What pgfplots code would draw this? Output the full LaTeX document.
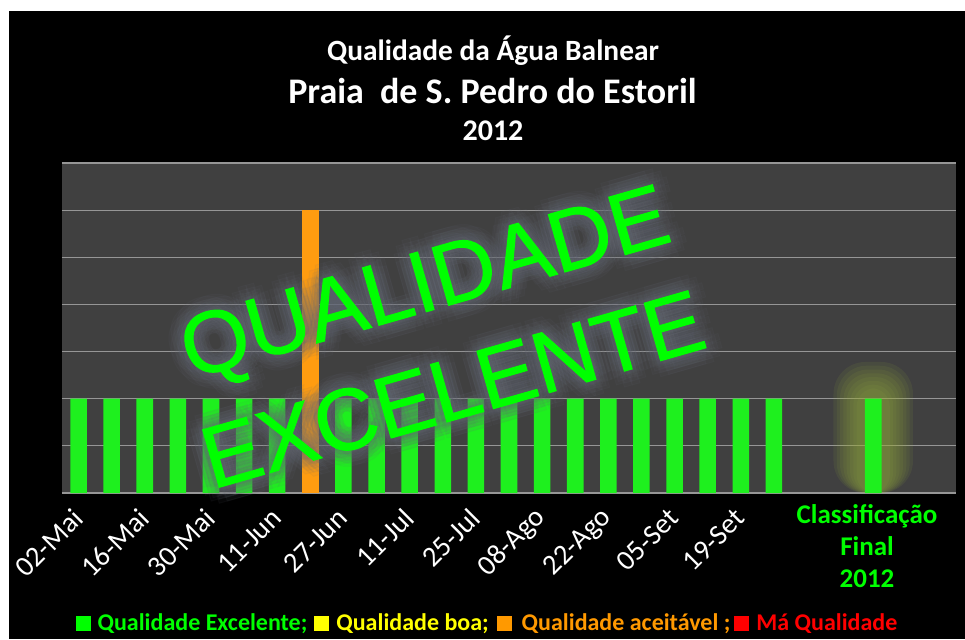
\documentclass[border=0pt]{standalone}
\usepackage{pgfplots}
\pgfplotsset{compat=1.18}
\usepackage{fontspec}
\setmainfont{Carlito}
\newfontfamily\arialfont[FakeBold=1.2]{Liberation Sans}
\definecolor{xgreen}{RGB}{30,240,30}
\definecolor{xorange}{RGB}{255,156,16}
\definecolor{plotbg}{RGB}{64,64,64}
\definecolor{gridc}{RGB}{150,150,150}
\definecolor{halo}{RGB}{105,110,122}
\definecolor{glowc}{RGB}{150,172,60}
\definecolor{lgreen}{RGB}{0,255,0}
\definecolor{lyellow}{RGB}{255,255,0}
\definecolor{lorange}{RGB}{255,153,0}
\definecolor{lred}{RGB}{255,0,0}
\begin{document}
\begin{tikzpicture}
\path[use as bounding box, fill=white] (0pt,0pt) rectangle (482.5pt,-319.5pt);
\fill[black] (4.5pt,-5.5pt) rectangle (482.5pt,-319.5pt);
\begin{axis}[
  at={(31pt,-246.5pt)}, anchor=south west,
  scale only axis, width=447pt, height=165pt,
  xmin=-0.5, xmax=26.5, ymin=0, ymax=7,
  axis background/.style={fill=plotbg},
  axis line style={draw=none},
  ytick={0,1,...,7}, yticklabels={}, ymajorgrids,
  major grid style={gridc, line width=0.6pt},
  major tick length=0pt,
  xtick={0,2,...,20},
  xticklabels={02-Mai,16-Mai,30-Mai,11-Jun,27-Jun,11-Jul,25-Jul,08-Ago,22-Ago,05-Set,19-Set},
  xticklabel style={rotate=45, anchor=east, text=white, font=\fontsize{14.3}{16}\selectfont, xshift=-4pt, yshift=-7pt},
]
\fill[glowc, opacity=0.1, rounded corners=16pt] (axis cs:22.8,0) rectangle (axis cs:25.2,2.78);
\fill[glowc, opacity=0.1, rounded corners=15pt] (axis cs:22.9,0) rectangle (axis cs:25.1,2.70);
\fill[glowc, opacity=0.1, rounded corners=14pt] (axis cs:23.0,0) rectangle (axis cs:25.0,2.62);
\fill[glowc, opacity=0.1, rounded corners=13pt] (axis cs:23.1,0) rectangle (axis cs:24.9,2.54);
\fill[glowc, opacity=0.1, rounded corners=12pt] (axis cs:23.2,0) rectangle (axis cs:24.8,2.46);
\fill[glowc, opacity=0.1, rounded corners=11pt] (axis cs:23.3,0) rectangle (axis cs:24.7,2.38);
\fill[glowc, opacity=0.1, rounded corners=10pt] (axis cs:23.4,0) rectangle (axis cs:24.6,2.30);
\fill[glowc, opacity=0.1, rounded corners=9pt] (axis cs:23.5,0) rectangle (axis cs:24.5,2.22);
\addplot[ybar, bar width=0.5, bar shift=0pt, draw=none, fill=xgreen]
coordinates {(0,2) (1,2) (2,2) (3,2) (4,2) (5,2) (6,2) (8,2) (9,2) (10,2) (11,2) (12,2) (13,2) (14,2) (15,2) (16,2) (17,2) (18,2) (19,2) (20,2) (21,2) (24,2)};
\addplot[ybar, bar width=0.5, bar shift=0pt, draw=none, fill=xorange]
coordinates {(7,6)};
\end{axis}
% watermark glow
\foreach \r in {2,4,6,8} {
  \foreach \a in {0,30,...,330} {
    \node[rotate=16, anchor=base, inner sep=0pt, text=halo, opacity=0.06, font=\arialfont\fontsize{43.5}{45}\selectfont]
      at ({216.25pt+\r*cos(\a)*1pt},{-155pt+\r*sin(\a)*1pt}) {QUALIDADE};
    \node[rotate=16, anchor=base, inner sep=0pt, text=halo, opacity=0.06, font=\arialfont\fontsize{43.5}{45}\selectfont]
      at ({230.5pt+\r*cos(\a)*1pt},{-209pt+\r*sin(\a)*1pt}) {EXCELENTE};
  }
}
\node[rotate=16, anchor=base, inner sep=0pt, text=lgreen, font=\arialfont\fontsize{43.5}{45}\selectfont] at (216.25pt,-155pt) {QUALIDADE};
\node[rotate=16, anchor=base, inner sep=0pt, text=lgreen, font=\arialfont\fontsize{43.5}{45}\selectfont] at (230.5pt,-209pt) {EXCELENTE};
% titles
\node[anchor=base, inner sep=0pt, text=white, font=\bfseries\fontsize{14.7}{16}\selectfont] at (246.5pt,-30.35pt) {Qualidade da Água Balnear};
\node[anchor=base, inner sep=0pt, text=white, font=\bfseries\fontsize{18}{20}\selectfont] at (246.25pt,-51.5pt) {Praia\ \ de S. Pedro do Estoril};
\node[anchor=base, inner sep=0pt, text=white, font=\bfseries\fontsize{15}{17}\selectfont] at (246.5pt,-70pt) {2012};
% final classification label
\node[align=center, inner sep=0pt, text=lgreen, font=\bfseries\fontsize{13.5}{16}\selectfont] at (433.5pt,-273pt) {Classificação\\Final\\2012};
% legend line
\node[anchor=base, inner sep=0pt, font=\bfseries\fontsize{12}{14}\selectfont] at (243.25pt,-315.3pt)
 {\textcolor{lgreen}{\rule{7.5pt}{7.5pt}\hspace{3.5pt}Qualidade Excelente;}\hspace{3.5pt}\textcolor{lyellow}{\rule{7.5pt}{7.5pt}\hspace{3.5pt}Qualidade boa;}\hspace{4pt}\textcolor{lorange}{\rule{7.5pt}{7.5pt}\hspace{5pt}Qualidade aceitável ;}\hspace{2pt}\textcolor{lred}{\rule{7.5pt}{7.5pt}\hspace{3.5pt}Má Qualidade}};
\end{tikzpicture}
\end{document}
